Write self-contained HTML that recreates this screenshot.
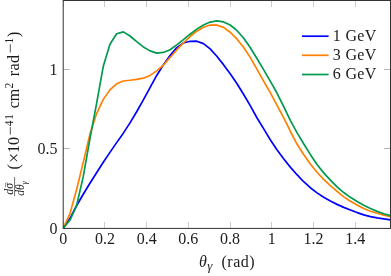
<!DOCTYPE html>
<html><head><meta charset="utf-8"><style>
html,body{margin:0;padding:0;background:#fff;}
svg{display:block;font-family:"Liberation Serif",serif;font-size:16px;fill:#1c1c1c;}
</style></head><body>
<svg width="391" height="276" viewBox="0 0 391 276">
<rect width="391" height="276" fill="#fff"/>
<g stroke="#808080" stroke-width="0.4" fill="none"><line x1="63.50" y1="228.4" x2="63.50" y2="221.9"/><line x1="63.50" y1="0.5" x2="63.50" y2="7.0"/><line x1="104.50" y1="228.4" x2="104.50" y2="221.9"/><line x1="104.50" y1="0.5" x2="104.50" y2="7.0"/><line x1="146.50" y1="228.4" x2="146.50" y2="221.9"/><line x1="146.50" y1="0.5" x2="146.50" y2="7.0"/><line x1="188.50" y1="228.4" x2="188.50" y2="221.9"/><line x1="188.50" y1="0.5" x2="188.50" y2="7.0"/><line x1="230.50" y1="228.4" x2="230.50" y2="221.9"/><line x1="230.50" y1="0.5" x2="230.50" y2="7.0"/><line x1="271.50" y1="228.4" x2="271.50" y2="221.9"/><line x1="271.50" y1="0.5" x2="271.50" y2="7.0"/><line x1="313.50" y1="228.4" x2="313.50" y2="221.9"/><line x1="313.50" y1="0.5" x2="313.50" y2="7.0"/><line x1="355.50" y1="228.4" x2="355.50" y2="221.9"/><line x1="355.50" y1="0.5" x2="355.50" y2="7.0"/><line stroke-width="0.6" x1="63.2" y1="228.50" x2="69.7" y2="228.50"/><line stroke-width="0.6" x1="390.5" y1="228.50" x2="384.0" y2="228.50"/><line stroke-width="0.6" x1="63.2" y1="148.50" x2="69.7" y2="148.50"/><line stroke-width="0.6" x1="390.5" y1="148.50" x2="384.0" y2="148.50"/><line stroke-width="0.6" x1="63.2" y1="69.50" x2="69.7" y2="69.50"/><line stroke-width="0.6" x1="390.5" y1="69.50" x2="384.0" y2="69.50"/></g>
<defs><clipPath id="c"><rect x="63.2" y="0.5" width="327.3" height="227.9"/></clipPath></defs>
<g fill="none" stroke-width="1.7" stroke-linejoin="round" clip-path="url(#c)">
<path d="M63.20,228.20 L69.88,218.53 L76.56,205.74 L83.24,194.24 L89.92,183.25 L96.60,172.75 L103.28,162.32 L109.96,152.35 L116.64,142.64 L123.32,133.14 L130.00,122.89 L136.68,111.74 L143.36,99.88 L150.03,87.68 L156.71,75.46 L163.39,64.68 L170.07,55.59 L176.75,47.64 L183.43,42.98 L190.11,41.28 L196.79,41.18 L203.47,43.61 L210.15,48.94 L216.83,56.26 L223.51,64.64 L230.19,73.84 L236.87,83.49 L243.55,94.26 L250.23,105.60 L256.91,117.78 L263.59,128.65 L270.27,139.79 L276.95,149.72 L283.63,158.84 L290.31,167.11 L296.99,174.70 L303.67,181.72 L310.34,187.72 L317.02,192.88 L323.70,197.27 L330.38,201.06 L337.06,204.38 L343.74,207.36 L350.42,209.97 L357.10,212.58 L363.78,214.82 L370.46,216.56 L377.14,217.84 L383.82,218.82 L390.50,219.80" stroke="#0000ff"/>
<path d="M63.20,228.20 L69.88,213.89 L76.56,189.82 L83.24,162.39 L89.92,134.31 L96.60,113.54 L103.28,99.38 L109.96,89.87 L116.64,83.80 L123.32,81.02 L130.00,80.23 L136.68,79.40 L143.36,78.17 L150.03,75.42 L156.71,70.86 L163.39,65.12 L170.07,57.51 L176.75,49.94 L183.43,42.88 L190.11,36.53 L196.79,31.15 L203.47,27.20 L210.15,25.05 L216.83,24.94 L223.51,27.39 L230.19,32.26 L236.87,38.92 L243.55,47.25 L250.23,57.36 L256.91,69.06 L263.59,81.13 L270.27,92.65 L276.95,105.06 L283.63,117.60 L290.31,131.24 L296.99,144.03 L303.67,154.45 L310.34,164.03 L317.02,172.26 L323.70,179.31 L330.38,185.59 L337.06,191.43 L343.74,196.91 L350.42,201.26 L357.10,205.01 L363.78,208.50 L370.46,211.21 L377.14,213.28 L383.82,215.06 L390.50,216.56" stroke="#ff8000"/>
<path d="M63.20,228.20 L69.88,220.31 L76.56,205.75 L83.24,176.68 L89.92,138.88 L96.60,103.44 L103.28,66.35 L109.96,44.22 L116.64,33.73 L123.32,31.90 L130.00,36.00 L136.68,41.67 L143.36,46.90 L150.03,50.88 L156.71,53.07 L163.39,52.43 L170.07,49.73 L176.75,44.82 L183.43,39.66 L190.11,34.20 L196.79,29.10 L203.47,25.01 L210.15,22.05 L216.83,20.80 L223.51,21.90 L230.19,24.99 L236.87,30.44 L243.55,38.00 L250.23,47.56 L256.91,58.49 L263.59,69.67 L270.27,81.07 L276.95,93.03 L283.63,106.29 L290.31,120.34 L296.99,132.62 L303.67,143.75 L310.34,154.41 L317.02,164.49 L323.70,172.88 L330.38,180.14 L337.06,186.91 L343.74,192.55 L350.42,197.32 L357.10,201.54 L363.78,205.25 L370.46,208.56 L377.14,211.38 L383.82,213.73 L390.50,215.57" stroke="#00994d"/>
</g>
<rect x="63.2" y="0.5" width="327.3" height="227.9" fill="none" stroke="#333" stroke-width="1"/>
<g stroke-width="1.7" fill="none">
<line x1="302" y1="36.2" x2="328.6" y2="36.2" stroke="#0000ff"/>
<line x1="302" y1="55.3" x2="328.6" y2="55.3" stroke="#ff8000"/>
<line x1="302" y1="74.5" x2="328.6" y2="74.5" stroke="#00994d"/>
</g>
<defs><filter id="gs" filterUnits="userSpaceOnUse" x="0" y="0" width="391" height="276"><feColorMatrix type="saturate" values="0"/></filter></defs>
<g filter="url(#gs)">
<g><text x="63.20" y="244.4" text-anchor="middle">0</text><text x="104.92" y="244.4" text-anchor="middle">0.2</text><text x="146.64" y="244.4" text-anchor="middle">0.4</text><text x="188.36" y="244.4" text-anchor="middle">0.6</text><text x="230.08" y="244.4" text-anchor="middle">0.8</text><text x="271.80" y="244.4" text-anchor="middle">1</text><text x="313.52" y="244.4" text-anchor="middle">1.2</text><text x="355.24" y="244.4" text-anchor="middle">1.4</text><text x="57.6" y="233.70" text-anchor="end">0</text><text x="57.6" y="154.15" text-anchor="end">0.5</text><text x="57.6" y="74.60" text-anchor="end">1</text></g>
<text x="332.7" y="41.0">1</text><text x="345.5" y="41.0" letter-spacing="0.25">GeV</text>
<text x="332.7" y="60.2">3</text><text x="345.5" y="60.2" letter-spacing="0.25">GeV</text>
<text x="332.7" y="79.4">6</text><text x="345.5" y="79.4" letter-spacing="0.25">GeV</text>
<text x="199" y="266.9"><tspan font-style="italic">θ</tspan><tspan font-style="italic" font-size="13" dy="2.6" dx="0.3">γ</tspan></text>
<text x="221.6" y="266.9" letter-spacing="0.45">(rad)</text>
<g transform="rotate(-90)">
<text x="-169.6" y="19">(</text>
<text x="-158" y="19.6" font-size="18" text-anchor="middle">×</text>
<text x="-153" y="19">10</text>
<line x1="-134.6" x2="-127" y1="10.3" y2="10.3" stroke="#1c1c1c" stroke-width="0.75"/>
<text x="-126.2" y="12.9" font-size="11.5" letter-spacing="0.6">41</text>
<text x="-108.3" y="19">cm</text>
<text x="-88.5" y="12.7" font-size="11.5">2</text>
<text x="-76.2" y="19" letter-spacing="0.4">rad</text>
<line x1="-52.5" x2="-44.3" y1="10.3" y2="10.3" stroke="#1c1c1c" stroke-width="0.75"/>
<text x="-43.6" y="12.9" font-size="11.5">1</text>
<text x="-37" y="19">)</text>
<line x1="-196.2" x2="-177" y1="14.6" y2="14.6" stroke="#333" stroke-width="0.7"/>
<text x="-194.8" y="12.6" font-size="12" font-style="italic">dσ</text>
<line x1="-187.2" x2="-182.8" y1="5.6" y2="5.6" stroke="#333" stroke-width="0.6"/>
<text x="-195.8" y="24.3" font-size="11.5" font-style="italic">dθ<tspan font-size="8.5" dy="2.2">γ</tspan></text>
</g>
</g>
</svg>
</body></html>
